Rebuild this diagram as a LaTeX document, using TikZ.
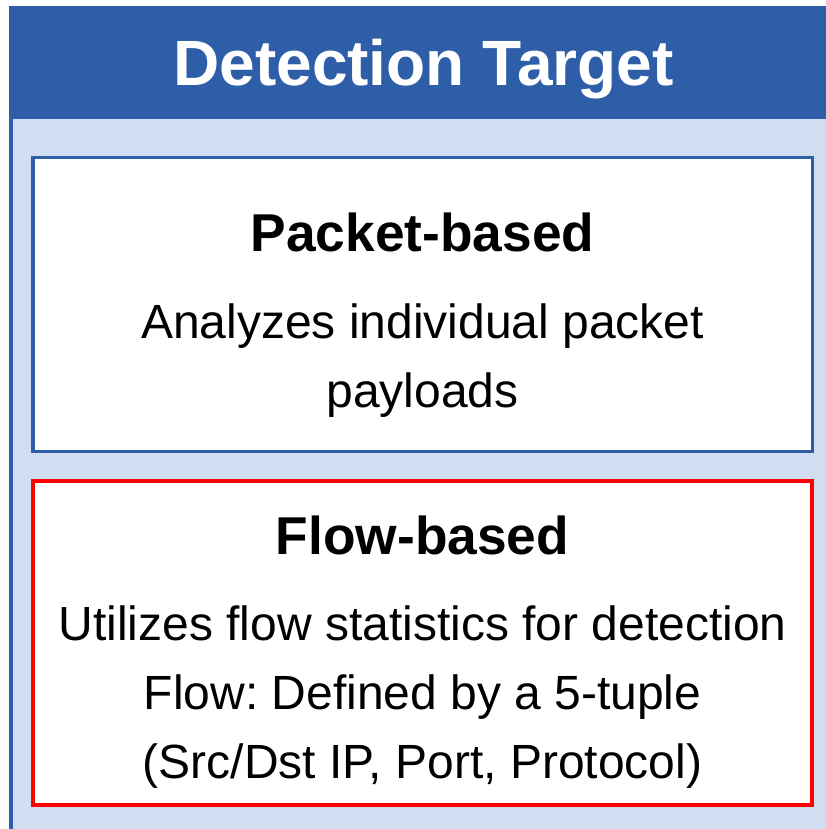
\documentclass[tikz,border=0pt]{standalone}
\usepackage{fontspec}
\setmainfont{Liberation Sans}
\frenchspacing
\definecolor{headblue}{RGB}{47,94,168}
\definecolor{paleblue}{RGB}{209,222,241}
\definecolor{flowred}{RGB}{255,0,0}
\begin{document}
\begin{tikzpicture}[x=1pt,y=-1pt,
  panel/.style={draw, line width=3.5pt, fill=white, inner sep=0pt},
  headtext/.style={anchor=base, text=white, font=\fontsize{64}{76}\selectfont\bfseries},
  boxtitle/.style={anchor=base, font=\fontsize{53.3}{62}\selectfont\bfseries},
  boxtext/.style={anchor=base, font=\fontsize{48}{58}\selectfont}]
\useasboundingbox (0,0) rectangle (825,829);
% outer frame: pale body with a solid header band
\fill[paleblue] (11,8) rectangle (840,840);
\fill[headblue] (11,8) rectangle (840,119);
\draw[headblue, line width=4pt] (11,840) -- (11,8) -- (840,8);
\node[headtext] (head) at (423.5,86) {Detection Target};
% packet-based panel
\node[panel, draw=headblue, minimum width=779.5pt, minimum height=293.5pt] (packet) at (422.5,304.5) {};
\node[boxtitle] (ptitle) at (422.5,251) {Packet-based};
\node[boxtext] (pline1) at (422.5,338) {Analyzes individual packet};
\node[boxtext] (pline2) at (422.5,407) {payloads};
% flow-based panel
\node[panel, draw=flowred, line width=4pt, minimum width=779pt, minimum height=324pt] (flow) at (422.5,643) {};
\node[boxtitle] (ftitle) at (422.5,554) {Flow-based};
\node[boxtext] (fline1) at (422.5,640) {Utilizes flow statistics for detection};
\node[boxtext] (fline2) at (422.5,709) {Flow: Defined by a 5-tuple};
\node[boxtext] (fline3) at (422.5,778) {(Src/Dst IP, Port, Protocol)};
\end{tikzpicture}
\end{document}
